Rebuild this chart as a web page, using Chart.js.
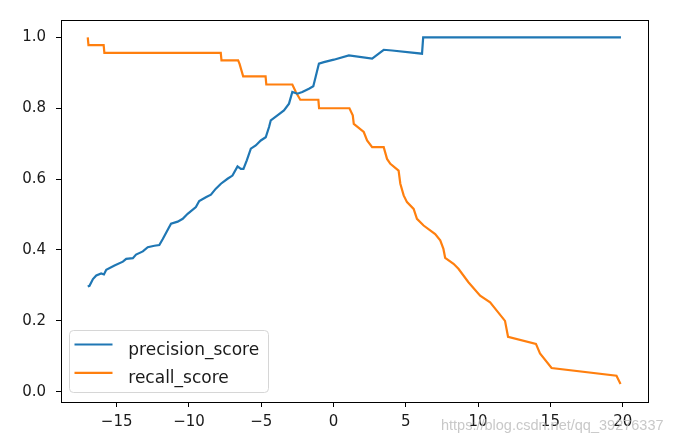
<!DOCTYPE html>
<html>
<head>
<meta charset="utf-8">
<script src="https://cdn.jsdelivr.net/npm/chart.js@4.4.1/dist/chart.umd.min.js"></script>
<style>
  html, body { margin: 0; padding: 0; background: #fff; }
  #wrap { position: relative; width: 693px; height: 445px; }
  #wm { position: absolute; left: 441px; top: 417px; font: 14.5px "Liberation Sans", Arial, sans-serif; color: rgba(190,190,190,0.85); white-space: nowrap; }
</style>
</head>
<body>
<div id="wrap">
<canvas id="c" width="693" height="445"></canvas>
<div id="wm">https://blog.csdn.net/qq_39276337</div>
</div>
<script>
// ---- data ----
const seriesLabels = ["precision_score", "recall_score"];
const seriesColors = ["#1f77b4", "#ff7f0e"];

const precisionThreshold = [-17.0,-16.88,-16.64,-16.41,-16.07,-15.88,-15.72,-15.15,-14.57,-14.34,-13.88,-13.66,-13.19,-12.85,-12.39,-12.05,-11.81,-11.43,-11.24,-10.78,-10.43,-10.09,-9.52,-9.29,-8.83,-8.48,-8.14,-7.79,-7.33,-6.99,-6.64,-6.41,-6.23,-6.0,-5.72,-5.38,-5.03,-4.69,-4.46,-4.34,-3.88,-3.43,-3.08,-2.85,-2.5,-2.16,-1.7,-1.4,-1.24,-1.01,-0.67,0.02,1.06,2.67,3.47,4.05,6.12,6.2,19.88];
const precisionScore = [0.297,0.299,0.318,0.328,0.334,0.331,0.344,0.356,0.367,0.375,0.377,0.387,0.396,0.408,0.412,0.414,0.431,0.460,0.474,0.480,0.488,0.502,0.521,0.538,0.549,0.556,0.573,0.587,0.601,0.610,0.636,0.629,0.629,0.653,0.686,0.695,0.709,0.718,0.747,0.766,0.780,0.794,0.813,0.846,0.841,0.846,0.855,0.862,0.888,0.926,0.930,0.937,0.949,0.940,0.965,0.963,0.954,1.0,1.0];

const recallThreshold = [-17.0,-16.95,-15.9,-15.85,-7.8,-7.75,-6.6,-6.5,-6.25,-4.7,-4.65,-2.85,-2.6,-2.3,-1.05,-1.0,1.1,1.33,1.4,2.09,2.32,2.67,3.47,3.7,3.93,4.5,4.62,4.85,5.08,5.54,5.77,6.23,7.03,7.38,7.6,7.72,8.3,8.64,9.33,10.14,10.83,11.29,11.86,12.07,14.0,14.28,15.08,19.57,19.85];
const recallScore = [1.0,0.978,0.978,0.956,0.956,0.935,0.935,0.925,0.89,0.89,0.867,0.867,0.845,0.824,0.824,0.80,0.80,0.78,0.756,0.733,0.709,0.69,0.69,0.657,0.643,0.624,0.587,0.554,0.535,0.516,0.488,0.469,0.445,0.427,0.403,0.378,0.361,0.347,0.309,0.271,0.252,0.229,0.20,0.155,0.135,0.108,0.067,0.045,0.022];

const xTicks = [-15, -10, -5, 0, 5, 10, 15, 20];
const yTicks = [0.0, 0.2, 0.4, 0.6, 0.8, 1.0];

const toXY = (xs, ys) => xs.map((x, i) => ({ x: x, y: ys[i] }));

const frameAndLegend = {
  id: 'frameAndLegend',
  afterDatasetsDraw(chart) {
    const ctx = chart.ctx, a = chart.chartArea;
    ctx.save();
    const bx = a.left + 8.5, by = a.bottom - 71.5, bw = 199, bh = 62, r = 4;
    ctx.beginPath();
    ctx.moveTo(bx + r, by);
    ctx.lineTo(bx + bw - r, by); ctx.arcTo(bx + bw, by, bx + bw, by + r, r);
    ctx.lineTo(bx + bw, by + bh - r); ctx.arcTo(bx + bw, by + bh, bx + bw - r, by + bh, r);
    ctx.lineTo(bx + r, by + bh); ctx.arcTo(bx, by + bh, bx, by + bh - r, r);
    ctx.lineTo(bx, by + r); ctx.arcTo(bx, by, bx + r, by, r);
    ctx.closePath();
    ctx.fillStyle = 'rgba(255,255,255,0.8)';
    ctx.fill();
    ctx.strokeStyle = '#d6d6d6';
    ctx.lineWidth = 1;
    ctx.stroke();
    ctx.font = '17px "DejaVu Sans"';
    ctx.textBaseline = 'alphabetic';
    ctx.fillStyle = '#1a1a1a';
    chart.data.datasets.forEach((ds, i) => {
      const yy = a.bottom - 57.5 + i * 28.4;
      ctx.beginPath();
      ctx.moveTo(a.left + 13.5, yy);
      ctx.lineTo(a.left + 51.5, yy);
      ctx.strokeStyle = ds.borderColor;
      ctx.lineWidth = 2.2;
      ctx.stroke();
      ctx.fillText(ds.label, a.left + 67.3, yy + 10.5);
    });
    ctx.strokeStyle = '#000';
    ctx.lineWidth = 1;
    ctx.strokeRect(Math.round(a.left) + 0.5, Math.round(a.top) + 0.5, Math.round(a.right - a.left), Math.round(a.bottom - a.top));
    ctx.restore();
  }
};

const minus = v => (v < 0 ? '\u2212' + Math.abs(v) : String(v));

new Chart(document.getElementById('c'), {
  type: 'scatter',
  data: {
    datasets: [
      { label: seriesLabels[0], data: toXY(precisionThreshold, precisionScore), borderColor: seriesColors[0], backgroundColor: seriesColors[0], showLine: true, pointRadius: 0, borderWidth: 2.2, tension: 0 },
      { label: seriesLabels[1], data: toXY(recallThreshold, recallScore), borderColor: seriesColors[1], backgroundColor: seriesColors[1], showLine: true, pointRadius: 0, borderWidth: 2.2, tension: 0 }
    ]
  },
  options: {
    responsive: false,
    animation: false,
    events: [],
    layout: { padding: { left: 0, top: 20, right: 45, bottom: 0 } },
    plugins: { legend: { display: false }, tooltip: { enabled: false } },
    scales: {
      x: {
        type: 'linear', min: -18.85, max: 21.75,
        afterBuildTicks: s => { s.ticks = xTicks.map(v => ({ value: v })); },
        afterFit: s => { s.height = 43; },
        border: { display: false },
        grid: { display: true, drawOnChartArea: false, drawTicks: true, tickLength: 5, tickColor: '#000', lineWidth: 1 },
        ticks: { color: '#1a1a1a', font: { family: 'DejaVu Sans', size: 15 }, padding: 6, maxRotation: 0, autoSkip: false, callback: v => minus(v) }
      },
      y: {
        type: 'linear', min: -0.029, max: 1.049,
        afterBuildTicks: s => { s.ticks = yTicks.map(v => ({ value: v })); },
        afterFit: s => { s.width = 61; },
        border: { display: false },
        grid: { display: true, drawOnChartArea: false, drawTicks: true, tickLength: 5, tickColor: '#000', lineWidth: 1 },
        ticks: { color: '#1a1a1a', font: { family: 'DejaVu Sans', size: 15 }, padding: 10, autoSkip: false, callback: v => Number(v).toFixed(1) }
      }
    }
  },
  plugins: [frameAndLegend]
});
</script>
</body>
</html>
